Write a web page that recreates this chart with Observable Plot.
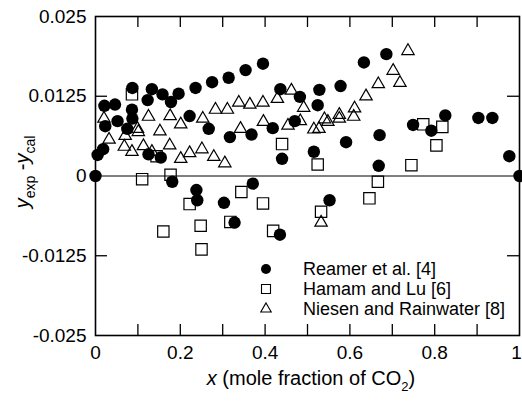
<!DOCTYPE html>
<html><head><meta charset="utf-8">
<script src="https://cdn.jsdelivr.net/npm/d3@7"></script>
<script src="https://cdn.jsdelivr.net/npm/@observablehq/plot@0.6"></script>
<style>html,body{margin:0;padding:0;background:#fff}svg{display:block}</style>
</head><body><div id="chart"></div>
<script>
// ---- data ----
const reamerX = [0, 0.005, 0.018, 0.021, 0.046, 0.023, 0.052, 0.075, 0.086, 0.087, 0.087, 0.123, 0.133, 0.158, 0.178, 0.196, 0.236, 0.275, 0.314, 0.354, 0.395, 0.125, 0.154, 0.222, 0.267, 0.317, 0.368, 0.418, 0.436, 0.482, 0.470, 0.440, 0.515, 0.528, 0.524, 0.578, 0.633, 0.686, 0.591, 0.670, 0.668, 0.749, 0.792, 0.825, 0.903, 0.936, 0.976, 1.0, 0.181, 0.238, 0.240, 0.303, 0.371, 0.328, 0.435, 0.552];
const reamerY = [0, 0.0033, 0.0042, 0.0110, 0.0112, 0.0078, 0.0086, 0.0074, 0.0104, 0.0090, 0.0138, 0.0119, 0.0136, 0.0128, 0.0116, 0.0129, 0.0138, 0.0147, 0.0154, 0.0166, 0.0176, 0.0034, 0.0029, 0.0094, 0.0074, 0.0061, 0.0065, 0.0075, 0.0136, 0.0124, 0.0086, 0.0027, 0.0038, 0.0135, 0.0111, 0.0141, 0.0178, 0.0191, 0.0053, 0.0064, 0.0016, 0.0080, 0.0071, 0.0095, 0.0091, 0.0091, 0.0031, 0, -0.0009, -0.0022, -0.0038, -0.0042, -0.0012, -0.0073, -0.0092, -0.0038];

const hamamX = [0.086, 0.440, 0.110, 0.177, 0.222, 0.344, 0.395, 0.318, 0.248, 0.160, 0.419, 0.250, 0.524, 0.773, 0.818, 0.804, 0.745, 0.666, 0.646, 0.532, 0.144];
const hamamY = [0.0128, 0.0050, -0.0005, 0.0002, -0.0044, -0.0025, -0.0043, -0.0072, -0.0078, -0.0087, -0.0086, -0.0115, 0.0018, 0.0081, 0.0077, 0.0048, 0.0017, -0.0009, -0.0035, -0.0056, 0.0031];

const niesenX = [0.020, 0.032, 0.070, 0.068, 0.086, 0.099, 0.101, 0.113, 0.125, 0.133, 0.152, 0.175, 0.176, 0.201, 0.201, 0.222, 0.251, 0.253, 0.279, 0.305, 0.283, 0.311, 0.338, 0.364, 0.395, 0.342, 0.396, 0.429, 0.462, 0.491, 0.454, 0.483, 0.515, 0.527, 0.540, 0.548, 0.575, 0.575, 0.609, 0.611, 0.638, 0.667, 0.718, 0.702, 0.737, 0.532];
const niesenY = [0.0090, 0.0057, 0.0063, 0.0046, 0.0038, 0.0074, 0.0069, 0.0047, 0.0093, 0.0038, 0.0070, 0.0048, 0.0094, 0.0081, 0.0027, 0.0036, 0.0042, 0.0090, 0.0030, 0.0020, 0.0104, 0.0104, 0.0115, 0.0112, 0.0115, 0.0074, 0.0085, 0.0121, 0.0134, 0.0107, 0.0079, 0.0086, 0.0073, 0.0074, 0.0089, 0.0085, 0.0096, 0.0090, 0.0093, 0.0106, 0.0125, 0.0144, 0.0146, 0.0165, 0.0196, -0.0073];

const xTicks = [0, 0.2, 0.4, 0.6, 0.8];
const xTickLabels = ["0", "0.2", "0.4", "0.6", "0.8"];
const xLastTick = [1];
const xLastTickLabel = "1";
const xMinorTicks = [0.1, 0.2, 0.3, 0.4, 0.5, 0.6, 0.7, 0.8, 0.9];
const yTicks = [-0.025, -0.0125, 0, 0.0125, 0.025];
const yTickLabels = ["-0.025", "-0.0125", "0", "0.0125", "0.025"];
const yInnerTicks = [-0.0125, 0.0125];
const legendLabels = ["Reamer et al. [4]", "Hamam and Lu [6]", "Niesen and Rainwater [8]"];

// ---- build ----
const zip = (xs, ys) => xs.map((x, i) => ({x, y: ys[i]}));
const reamer = zip(reamerX, reamerY);
const hamam = zip(hamamX, hamamY);
const niesen = zip(niesenX, niesenY);

const W = 522, H = 403, mL = 95, mR = 3, mT = 16, mB = 68;
const innerW = W - mL - mR, innerH = H - mT - mB;
const font = "'Liberation Sans', Arial, Helvetica, sans-serif";

const plot = Plot.plot({
  width: W, height: H,
  marginLeft: mL, marginRight: mR, marginTop: mT, marginBottom: mB,
  style: {fontFamily: font, color: "black", background: "white"},
  x: {domain: [0, 1], label: null},
  y: {domain: [-0.025, 0.025], label: null},
  marks: [
    Plot.ruleY([0], {stroke: "black", strokeWidth: 1}),
    Plot.tickX(xMinorTicks, {x: d => d, insetTop: innerH - 11, stroke: "black", strokeWidth: 1.3}),
    Plot.tickX(xMinorTicks, {x: d => d, insetBottom: innerH - 11, stroke: "black", strokeWidth: 1.3}),
    Plot.tickY(yInnerTicks, {y: d => d, insetRight: innerW - 12, stroke: "black", strokeWidth: 1.3}),
    Plot.tickY(yInnerTicks, {y: d => d, insetLeft: innerW - 12, stroke: "black", strokeWidth: 1.3}),
    Plot.axisX(xTicks, {tickSize: 0, tickPadding: 10, fontSize: 19, label: null,
      tickFormat: d => xTickLabels[xTicks.indexOf(d)]}),
    Plot.axisX(xLastTick, {tickSize: 0, tickPadding: 10, fontSize: 19, label: null, dx: -3,
      tickFormat: () => xLastTickLabel}),
    Plot.axisY(yTicks, {tickSize: 0, tickPadding: 9, fontSize: 19, label: null,
      tickFormat: d => yTickLabels[yTicks.indexOf(d)]}),
    Plot.dot(niesen, {x: "x", y: "y", symbol: "triangle", r: 4.6, fill: "none", stroke: "black", strokeWidth: 1.2}),
    Plot.dot(hamam, {x: "x", y: "y", symbol: "square", r: 6.4, fill: "none", stroke: "black", strokeWidth: 1.2}),
    Plot.dot(reamer, {x: "x", y: "y", r: 6.2, fill: "black", stroke: "none"}),
    Plot.frame({stroke: "black", strokeWidth: 1.6})
  ]
});
document.getElementById("chart").appendChild(plot);

// ---- legend and axis titles (with subscripts) ----
const svg = d3.select(plot);
const legendTypes = [d3.symbolCircle, d3.symbolSquare, d3.symbolTriangle];
const legendSizes = [Math.PI * 25, 81, Math.sqrt(3) / 4 * 110];
const legendFill = ["black", "none", "none"];
const lg = svg.append("g").attr("font-family", font).attr("font-size", 18).attr("text-anchor", "start");
legendLabels.forEach((lab, i) => {
  const yy = 269 + i * 20;
  lg.append("path")
    .attr("d", d3.symbol().type(legendTypes[i]).size(legendSizes[i])())
    .attr("transform", `translate(266,${yy})`)
    .attr("fill", legendFill[i]).attr("stroke", i ? "black" : "none").attr("stroke-width", 1.1);
  lg.append("text").attr("x", 303).attr("y", yy).attr("dy", "0.36em").attr("fill", "black").text(lab);
});

const xl = svg.append("text").attr("font-family", font).attr("font-size", 20)
  .attr("text-anchor", "middle").attr("x", 311).attr("y", 385).attr("fill", "black");
xl.append("tspan").attr("font-style", "italic").text("x");
xl.append("tspan").text(" (mole fraction of CO");
xl.append("tspan").attr("font-size", 13).attr("dy", 6).text("2");
xl.append("tspan").attr("dy", -6).text(")");

const yl = svg.append("text").attr("font-family", font).attr("font-size", 20)
  .attr("text-anchor", "middle").attr("transform", "translate(29,172) rotate(-90)").attr("fill", "black");
yl.append("tspan").attr("font-style", "italic").text("y");
yl.append("tspan").attr("font-size", 14).attr("dy", 6).text("exp");
yl.append("tspan").attr("dy", -6).text(" -");
yl.append("tspan").attr("font-style", "italic").text("y");
yl.append("tspan").attr("font-size", 14).attr("dy", 6).text("cal");
</script>
</body></html>
